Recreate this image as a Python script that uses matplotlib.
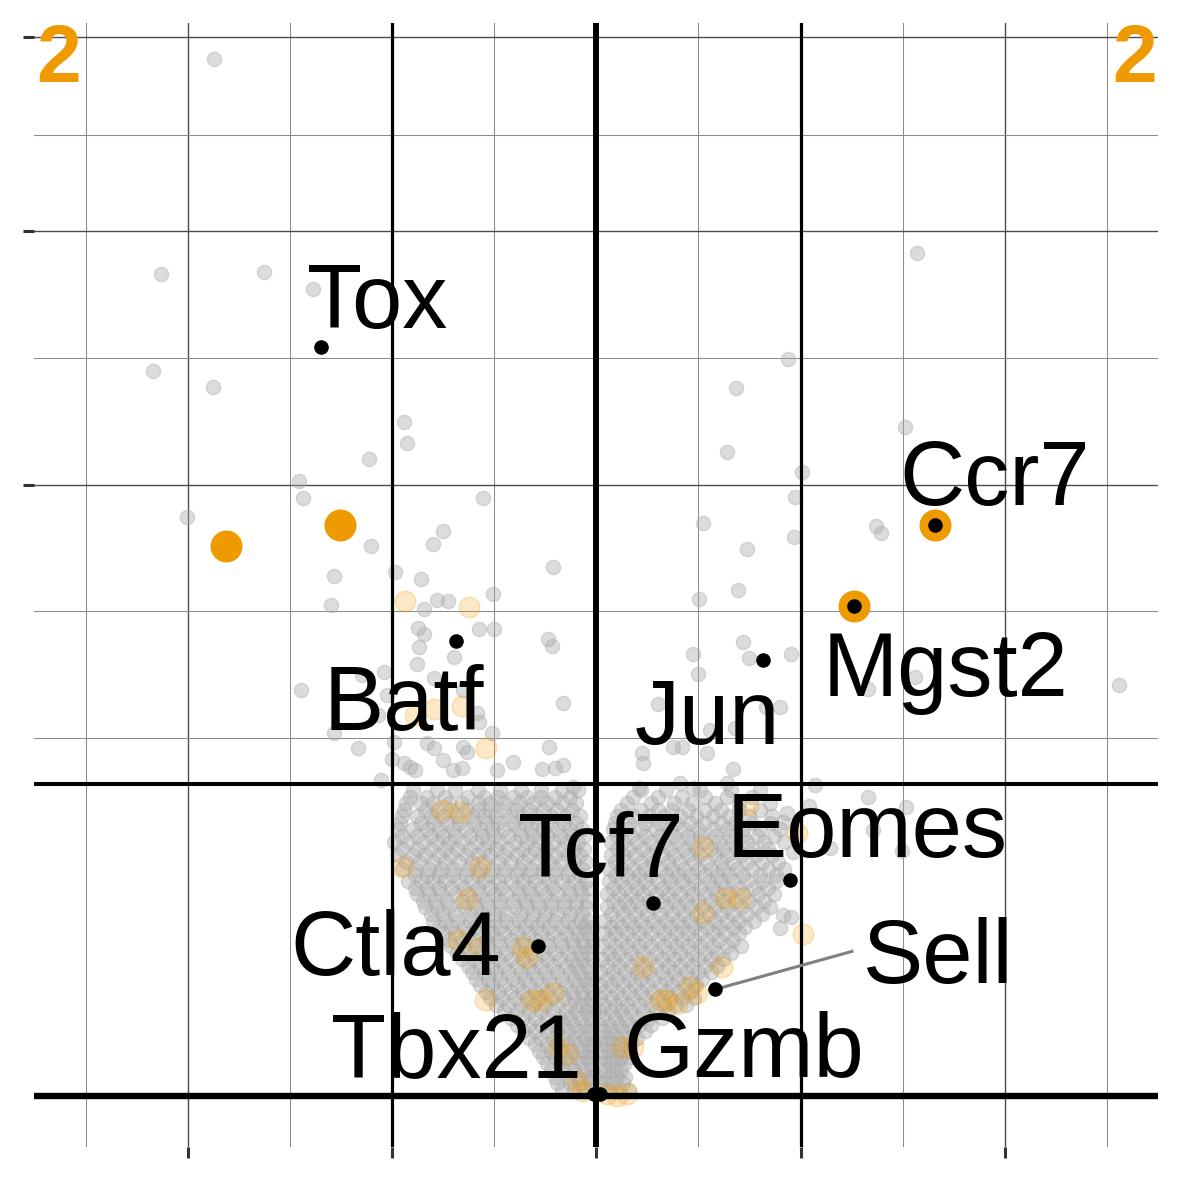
import numpy as np
import matplotlib
matplotlib.use("Agg")
import matplotlib.pyplot as plt

# log2 fold change (x) and -log10 p value (y)
# scattered gray genes, left side
out_left_fc = [-1.874, -2.133, -1.629, -1.385, -2.172, -1.879, -0.944, -0.925, -1.115, -1.458,
               -1.438, -2.006, -0.553, -0.749, -0.802, -1.101, -1.282, -0.988, -0.856, -1.301,
               -0.778, -0.724, -0.504, -0.846, -0.210, -0.572, -0.499, -0.871, -0.846, -0.866,
               -0.235, -0.215, -0.695, -0.876, -0.797, -0.651, -0.582, -0.572, -0.161, -0.509,
               -0.230, -0.827, -0.797, -0.651, -0.631, -0.749, -0.700, -0.656, -0.406, -0.264,
               -0.201, -0.161, -1.448, -0.910, -0.886, -0.944, -0.484, -0.113, -1.042, -1.145,
               -1.023, -1.071, -0.993, -1.282, -1.169, -0.998, -1.052]
out_left_p = [287.9, 180.7, 181.6, 174.2, 140.5, 134.3, 121.7, 113.9, 108.7, 101.3,
              95.8, 89.8, 95.8, 85.5, 81.6, 81.0, 72.4, 73.5, 71.6, 64.5,
              65.8, 65.6, 67.5, 63.5, 74.9, 58.4, 58.4, 58.6, 57.1, 53.9,
              55.9, 54.2, 51.6, 49.9, 46.7, 44.1, 39.2, 37.4, 41.3, 35.2,
              32.5, 33.3, 32.4, 32.5, 31.6, 30.2, 28.4, 28.7, 29.8, 28.6,
              28.7, 29.3, 44.1, 28.9, 28.4, 29.6, 28.4, 25.5, 48.1, 47.4,
              43.0, 38.8, 33.5, 35.2, 32.4, 30.3, 26.7]

# scattered gray genes, right side
out_right_fc = [1.570, 0.939, 0.685, 1.512, 0.641, 1.008, 0.974, 0.523, 0.739, 1.370,
                1.394, 0.969, 0.504, 0.695, 0.719, 0.749, 0.954, 0.475, 0.499, 0.303,
                0.832, 0.558, 0.680, 0.377, 0.421, 0.543, 0.225, 0.230, 0.670, 0.641,
                0.210, 0.411, 0.475, 1.331, 1.561, 2.559, 0.900, 1.071, 1.331, 1.517,
                0.934, 0.915, 1.042, 1.355, 1.145, 1.497, 0.964, 0.915, 0.954, 0.900]
out_right_p = [190.1, 145.2, 134.0, 119.6, 110.8, 104.3, 96.1, 87.9, 80.1, 87.0,
               84.9, 83.7, 66.1, 68.5, 55.1, 51.3, 52.3, 52.3, 47.6, 41.1,
               40.5, 35.8, 36.2, 32.5, 32.5, 31.4, 31.4, 29.6, 28.6, 26.2,
               25.3, 26.2, 25.3, 44.3, 47.0, 45.2, 40.5, 25.8, 23.9, 22.3,
               21.4, 20.0, 22.4, 18.9, 16.4, 16.0, 15.9, 8.71, 8.51, 7.50]

# dense body of the volcano, one row per -log10 p level
core_left = [
    (25.0, [-0.90, -0.78, -0.69, -0.58, -0.47, -0.37, -0.27, -0.17, -0.09]),
    (23.95, [-0.91, -0.83, -0.74, -0.63, -0.55, -0.48, -0.41, -0.34, -0.27, -0.20, -0.13]),
    (22.9, [-0.93, -0.86, -0.80, -0.72, -0.66, -0.58, -0.52, -0.45, -0.38, -0.31, -0.24, -0.17, -0.10]),
    (21.9, [-0.94, -0.84, -0.78, -0.71, -0.64, -0.58, -0.52, -0.45, -0.39, -0.33, -0.26, -0.19, -0.12]),
    (20.9, [-0.95, -0.88, -0.81, -0.75, -0.68, -0.61, -0.55, -0.49, -0.42, -0.36, -0.29, -0.22, -0.15, -0.08]),
    (19.96, [-0.96, -0.86, -0.80, -0.73, -0.67, -0.60, -0.54, -0.48, -0.41, -0.35, -0.29, -0.22, -0.16, -0.10]),
    (19.0, [-0.97, -0.90, -0.83, -0.77, -0.70, -0.64, -0.57, -0.51, -0.45, -0.38, -0.32, -0.26, -0.19, -0.13, -0.07]),
    (18.1, [-0.95, -0.88, -0.81, -0.75, -0.69, -0.62, -0.56, -0.50, -0.43, -0.37, -0.31, -0.24, -0.18, -0.12, -0.06]),
    (17.2, [-0.99, -0.92, -0.85, -0.78, -0.72, -0.66, -0.59, -0.53, -0.47, -0.40, -0.34, -0.28, -0.21, -0.15, -0.09]),
    (16.33, [-0.95, -0.88, -0.81, -0.74, -0.68, -0.62, -0.55, -0.49, -0.43, -0.36, -0.30, -0.24, -0.17, -0.11, -0.06]),
    (15.5, [-0.97, -0.90, -0.84, -0.77, -0.71, -0.64, -0.58, -0.52, -0.45, -0.39, -0.33, -0.26, -0.20, -0.14, -0.08]),
    (14.65, [-0.93, -0.87, -0.80, -0.74, -0.67, -0.61, -0.55, -0.48, -0.42, -0.36, -0.29, -0.23, -0.17, -0.11, -0.05]),
    (13.8, [-0.95, -0.89, -0.82, -0.76, -0.70, -0.63, -0.57, -0.51, -0.45, -0.38, -0.32, -0.26, -0.20, -0.13, -0.07]),
    (13.07, [-0.89, -0.83, -0.77, -0.70, -0.64, -0.58, -0.52, -0.45, -0.39, -0.33, -0.26, -0.20, -0.14, -0.08]),
    (12.3, [-0.92, -0.86, -0.80, -0.74, -0.67, -0.61, -0.55, -0.48, -0.42, -0.36, -0.30, -0.23, -0.17, -0.11, -0.05]),
    (11.57, [-0.89, -0.83, -0.77, -0.71, -0.65, -0.58, -0.52, -0.46, -0.39, -0.33, -0.27, -0.21, -0.14, -0.08, -0.04]),
    (10.9, [-0.88, -0.82, -0.76, -0.69, -0.63, -0.57, -0.50, -0.44, -0.38, -0.32, -0.25, -0.19, -0.13, -0.07]),
    (10.17, [-0.85, -0.79, -0.73, -0.66, -0.60, -0.54, -0.47, -0.41, -0.35, -0.29, -0.22, -0.16, -0.10, -0.04]),
    (9.5, [-0.84, -0.78, -0.72, -0.65, -0.59, -0.53, -0.47, -0.40, -0.34, -0.28, -0.22, -0.16, -0.10, -0.05]),
    (8.86, [-0.81, -0.75, -0.69, -0.62, -0.56, -0.50, -0.44, -0.37, -0.31, -0.25, -0.19, -0.13, -0.07]),
    (8.2, [-0.80, -0.74, -0.68, -0.62, -0.56, -0.50, -0.44, -0.38, -0.32, -0.26, -0.20, -0.14, -0.08, -0.04]),
    (7.63, [-0.77, -0.71, -0.65, -0.59, -0.53, -0.47, -0.41, -0.35, -0.29, -0.23, -0.17, -0.11, -0.06, -0.02]),
    (7.05, [-0.75, -0.69, -0.63, -0.57, -0.51, -0.45, -0.39, -0.33, -0.27, -0.21, -0.15, -0.09, -0.04]),
    (6.50, [-0.72, -0.66, -0.60, -0.54, -0.48, -0.42, -0.36, -0.30, -0.24, -0.18, -0.12, -0.07, -0.02]),
    (5.97, [-0.71, -0.65, -0.59, -0.53, -0.47, -0.41, -0.35, -0.29, -0.23, -0.17, -0.11, -0.06, -0.02]),
    (5.46, [-0.68, -0.62, -0.56, -0.50, -0.44, -0.38, -0.32, -0.26, -0.20, -0.14, -0.08, -0.04]),
    (4.97, [-0.66, -0.60, -0.54, -0.48, -0.42, -0.36, -0.30, -0.24, -0.18, -0.12, -0.07, -0.02]),
    (4.51, [-0.63, -0.57, -0.51, -0.45, -0.39, -0.33, -0.27, -0.21, -0.15, -0.10, -0.05]),
    (4.07, [-0.61, -0.55, -0.49, -0.43, -0.37, -0.31, -0.25, -0.19, -0.13, -0.08, -0.03]),
    (3.65, [-0.59, -0.53, -0.47, -0.41, -0.35, -0.29, -0.23, -0.17, -0.11, -0.06, -0.02]),
    (3.25, [-0.57, -0.51, -0.45, -0.39, -0.33, -0.27, -0.21, -0.15, -0.09, -0.04]),
    (2.88, [-0.54, -0.48, -0.42, -0.36, -0.30, -0.24, -0.18, -0.12, -0.07, -0.02]),
    (2.53, [-0.52, -0.46, -0.40, -0.34, -0.28, -0.22, -0.16, -0.11, -0.06, -0.02]),
    (2.20, [-0.49, -0.43, -0.37, -0.31, -0.25, -0.19, -0.13, -0.08, -0.04]),
    (1.90, [-0.45, -0.39, -0.33, -0.27, -0.21, -0.15, -0.10, -0.05, -0.01]),
    (1.62, [-0.42, -0.36, -0.30, -0.24, -0.18, -0.13, -0.08, -0.03]),
    (1.35, [-0.39, -0.33, -0.27, -0.21, -0.16, -0.11, -0.06, -0.02]),
    (1.12, [-0.36, -0.30, -0.24, -0.19, -0.14, -0.09, -0.04]),
    (0.90, [-0.33, -0.27, -0.21, -0.16, -0.11, -0.06, -0.02]),
    (0.71, [-0.30, -0.24, -0.19, -0.14, -0.09, -0.04, -0.01]),
    (0.54, [-0.28, -0.22, -0.17, -0.12, -0.07, -0.03]),
    (0.40, [-0.26, -0.20, -0.15, -0.10, -0.05, -0.02]),
    (0.28, [-0.24, -0.18, -0.13, -0.08, -0.03]),
    (0.175, [-0.22, -0.16, -0.11, -0.06, -0.02]),
    (0.097, [-0.20, -0.14, -0.09, -0.04, -0.01]),
    (0.042, [-0.19, -0.13, -0.08, -0.03]),
    (0.0097, [-0.17, -0.11, -0.06, -0.02]),
]
core_right = [
    (25.0, [0.22, 0.34, 0.51, 0.66, 0.80]),
    (23.95, [0.18, 0.30, 0.42, 0.53, 0.64, 0.76]),
    (22.9, [0.15, 0.27, 0.38, 0.47, 0.58, 0.70, 0.85]),
    (21.9, [0.12, 0.22, 0.30, 0.37, 0.45, 0.53, 0.61, 0.70, 0.80]),
    (20.9, [0.10, 0.18, 0.26, 0.33, 0.41, 0.49, 0.57, 0.65, 0.75, 0.86]),
    (19.96, [0.09, 0.16, 0.24, 0.31, 0.39, 0.46, 0.53, 0.61, 0.68, 0.76, 0.85]),
    (19.0, [0.08, 0.15, 0.22, 0.29, 0.36, 0.43, 0.50, 0.57, 0.64, 0.72, 0.80, 0.90]),
    (18.1, [0.10, 0.17, 0.24, 0.31, 0.38, 0.45, 0.51, 0.58, 0.65, 0.72, 0.79, 0.87]),
    (17.2, [0.07, 0.13, 0.20, 0.27, 0.33, 0.40, 0.47, 0.53, 0.60, 0.67, 0.74, 0.82, 0.92]),
    (16.33, [0.10, 0.16, 0.23, 0.29, 0.36, 0.43, 0.49, 0.56, 0.62, 0.69, 0.76, 0.84]),
    (15.5, [0.07, 0.13, 0.19, 0.26, 0.32, 0.38, 0.45, 0.51, 0.58, 0.64, 0.71, 0.78, 0.86]),
    (14.65, [0.09, 0.15, 0.22, 0.28, 0.35, 0.41, 0.48, 0.54, 0.61, 0.67, 0.74, 0.81, 0.89]),
    (13.8, [0.06, 0.12, 0.18, 0.24, 0.31, 0.37, 0.43, 0.50, 0.56, 0.62, 0.69, 0.76, 0.84, 0.92]),
    (13.07, [0.09, 0.15, 0.21, 0.27, 0.34, 0.40, 0.46, 0.53, 0.59, 0.65, 0.72, 0.80, 0.88]),
    (12.3, [0.06, 0.12, 0.18, 0.24, 0.30, 0.36, 0.42, 0.48, 0.55, 0.61, 0.67, 0.74, 0.81, 0.88]),
    (11.57, [0.08, 0.14, 0.20, 0.26, 0.32, 0.38, 0.45, 0.51, 0.57, 0.63, 0.70, 0.77, 0.84]),
    (10.9, [0.05, 0.11, 0.17, 0.23, 0.29, 0.35, 0.41, 0.47, 0.53, 0.59, 0.65, 0.72, 0.79, 0.87]),
    (10.17, [0.08, 0.14, 0.20, 0.26, 0.32, 0.38, 0.44, 0.50, 0.56, 0.62, 0.68, 0.75, 0.82]),
    (9.5, [0.05, 0.11, 0.16, 0.22, 0.28, 0.34, 0.40, 0.46, 0.52, 0.58, 0.64, 0.71, 0.78, 0.85]),
    (8.86, [0.07, 0.13, 0.19, 0.25, 0.31, 0.37, 0.43, 0.49, 0.55, 0.61, 0.67, 0.74, 0.81]),
    (8.2, [0.04, 0.10, 0.16, 0.22, 0.28, 0.34, 0.40, 0.46, 0.52, 0.58, 0.64, 0.70, 0.77]),
    (7.63, [0.07, 0.12, 0.18, 0.24, 0.30, 0.36, 0.42, 0.48, 0.54, 0.60, 0.67, 0.73]),
    (7.05, [0.04, 0.09, 0.15, 0.21, 0.27, 0.33, 0.39, 0.45, 0.51, 0.57, 0.63, 0.70]),
    (6.50, [0.06, 0.12, 0.18, 0.24, 0.30, 0.36, 0.42, 0.48, 0.54, 0.60, 0.67]),
    (5.97, [0.03, 0.09, 0.15, 0.21, 0.27, 0.33, 0.39, 0.45, 0.51, 0.57, 0.64, 0.71]),
    (5.46, [0.06, 0.11, 0.17, 0.23, 0.29, 0.35, 0.41, 0.47, 0.53, 0.59, 0.66]),
    (4.97, [0.03, 0.08, 0.14, 0.20, 0.26, 0.32, 0.38, 0.44, 0.50, 0.56, 0.62]),
    (4.51, [0.05, 0.11, 0.17, 0.23, 0.29, 0.35, 0.41, 0.47, 0.53, 0.59]),
    (4.07, [0.02, 0.08, 0.14, 0.20, 0.26, 0.32, 0.38, 0.44, 0.50, 0.56]),
    (3.65, [0.05, 0.10, 0.16, 0.22, 0.28, 0.34, 0.40, 0.46, 0.52]),
    (3.25, [0.02, 0.07, 0.13, 0.19, 0.25, 0.31, 0.37, 0.43, 0.49]),
    (2.88, [0.04, 0.10, 0.16, 0.22, 0.28, 0.34, 0.40, 0.46]),
    (2.53, [0.02, 0.07, 0.12, 0.18, 0.24, 0.30, 0.36, 0.42, 0.48]),
    (2.20, [0.04, 0.09, 0.15, 0.21, 0.27, 0.33, 0.39, 0.44]),
    (1.90, [0.02, 0.07, 0.12, 0.17, 0.23, 0.29, 0.35]),
    (1.62, [0.04, 0.09, 0.14, 0.20, 0.26, 0.32]),
    (1.35, [0.02, 0.06, 0.11, 0.16, 0.21, 0.27]),
    (1.12, [0.04, 0.08, 0.13, 0.18, 0.24]),
    (0.90, [0.02, 0.06, 0.10, 0.15, 0.20]),
    (0.71, [0.04, 0.08, 0.12, 0.17]),
    (0.54, [0.02, 0.06, 0.10, 0.15]),
    (0.40, [0.04, 0.08, 0.12, 0.16]),
    (0.28, [0.02, 0.06, 0.10, 0.14]),
    (0.175, [0.04, 0.08, 0.12]),
    (0.097, [0.02, 0.06, 0.10, 0.14]),
    (0.042, [0.04, 0.08, 0.13]),
    (0.0097, [0.02, 0.06, 0.11, 0.16]),
]

# faint orange genes (gene set members, not significant)
set_fc = [-0.939, -0.621, -0.797, -0.656, -0.886, -0.538, -0.758, -0.665, -0.949, -0.568,
          -0.631, -0.675, -0.577, -0.357, -0.338, -0.543, -0.313, -0.274, -0.210, -0.186,
          -0.142, -0.093, -0.068, 0.054, 0.103, 0.152, 0.127, 0.181, 0.230, 0.313,
          0.347, 0.396, 0.460, 0.494, 0.523, 0.523, 0.616, 0.631, 0.705, 0.744,
          0.983, 1.013]
set_p = [65.6, 64.0, 40.0, 40.7, 38.8, 32.4, 21.8, 21.5, 14.0, 14.0,
         10.4, 6.46, 5.81, 5.89, 5.12, 2.43, 2.43, 2.43, 2.80, 0.62,
         0.47, 0.06, 0.0067, 0.001, 0.0, 0.001, 0.62, 0.62, 4.40, 2.43,
         2.43, 2.27, 3.13, 2.80, 16.5, 8.90, 4.40, 10.5, 10.5, 22.6,
         18.4, 6.97]

# significant gene set members
sig_fc = [-1.815, -1.257, 1.659, 1.262]
sig_p = [81.0, 87.3, 87.3, 64.3]

# labelled genes
genes = ["Tox", "Batf", "Jun", "Eomes", "Tcf7", "Ctla4", "Sell", "Gzmb", "Tbx21", "Ccr7", "Mgst2"]
gene_fc = [-1.350, -0.685, 0.817, 0.949, 0.279, -0.284, 0.582, 0.02, -0.01, 1.659, 1.262]
gene_p = [150.0, 55.4, 50.9, 12.5, 9.91, 5.97, 3.02, 0.001, 0.001, 87.3, 64.3]

# counts of significant set members per side
n_down, n_up = "2", "2"

fc_cut = 1.0
p_cut = 26.0

# label placement (axes fraction: centre x, baseline y)
label_pos = {
    "Tox": (0.3047, 0.7284), "Ccr7": (0.8547, 0.5709), "Mgst2": (0.8111, 0.4010),
    "Batf": (0.3289, 0.3707), "Jun": (0.5985, 0.3583), "Eomes": (0.7408, 0.2578),
    "Tcf7": (0.5042, 0.2400), "Ctla4": (0.3218, 0.1528), "Sell": (0.8045, 0.1457),
    "Tbx21": (0.3752, 0.0620), "Gzmb": (0.6314, 0.0620),
}
sell_seg_end = (1.252, 5.57)

orange = "#EE9A00"
gray = "#a9a9a9"


def fwd(v):
    v = np.asarray(v, dtype=float)
    return np.sign(v) * np.sqrt(np.abs(v))


def inv(t):
    t = np.asarray(t, dtype=float)
    return np.sign(t) * t ** 2


core_fc, core_p = [], []
for p, xs in core_left + core_right:
    core_fc += xs
    core_p += [p] * len(xs)

gray_fc = out_left_fc + out_right_fc + core_fc
gray_p = out_left_p + out_right_p + core_p

fig = plt.figure(figsize=(11.81, 11.81), dpi=100)
ax = fig.add_axes([0.02904, 0.02904, 0.95174, 0.95174])
ax.set_yscale("function", functions=(fwd, inv))
ax.set_xlim(-2.752, 2.752)
ax.set_ylim(-0.70, 308.3)

ax.set_xticks([-2, -1, 0, 1, 2])
ax.set_xticks([-2.5, -1.5, -0.5, 0.5, 1.5, 2.5], minor=True)
ax.set_yticks([100, 200, 300])
ax.set_yticks([34.2, 62.9, 145.7, 247.1], minor=True)
ax.tick_params(which="major", length=8, width=2.2, color="#333333",
               labelleft=False, labelbottom=False)
ax.tick_params(which="minor", length=0)
ax.grid(which="major", color="#4d4d4d", lw=1.0)
ax.grid(which="minor", color="#8c8c8c", lw=0.75)
ax.set_axisbelow(True)
for s in ax.spines.values():
    s.set_visible(False)

ax.scatter(gray_fc, gray_p, s=105, facecolor=gray, edgecolor=gray,
           linewidths=1.0, alpha=0.4, zorder=2)
ax.scatter(set_fc, set_p, s=220, facecolor=orange, edgecolor=orange,
           linewidths=1.2, alpha=0.22, zorder=2.2)

ax.axhline(0, color="black", lw=4.6, zorder=2.5)
ax.axvline(0, color="black", lw=4.3, zorder=2.5)
ax.axhline(p_cut, color="black", lw=2.9, zorder=2.5)
ax.axvline(-fc_cut, color="black", lw=2.3, zorder=2.5)
ax.axvline(fc_cut, color="black", lw=2.3, zorder=2.5)

ax.scatter(sig_fc, sig_p, s=530, color=orange, linewidths=0, zorder=3)

i_sell = genes.index("Sell")
ax.plot([gene_fc[i_sell], sell_seg_end[0]], [gene_p[i_sell], sell_seg_end[1]],
        color="#808080", lw=2.2, zorder=3.5)
ax.scatter(gene_fc, gene_p, s=110, color="black", linewidths=0, zorder=4)

for g in genes:
    lx, ly = label_pos[g]
    ax.text(lx, ly, g, transform=ax.transAxes, ha="center", va="baseline",
            fontsize=65, family="Liberation Sans", color="black", zorder=5)

ax.text(0.0015, 0.9473, n_down, transform=ax.transAxes, ha="left", va="baseline",
        fontsize=58, fontweight="bold", family="Liberation Sans", color=orange, zorder=5)
ax.text(0.9985, 0.9473, n_up, transform=ax.transAxes, ha="right", va="baseline",
        fontsize=58, fontweight="bold", family="Liberation Sans", color=orange, zorder=5)

fig.savefig("out.png", dpi=100, facecolor="white")
